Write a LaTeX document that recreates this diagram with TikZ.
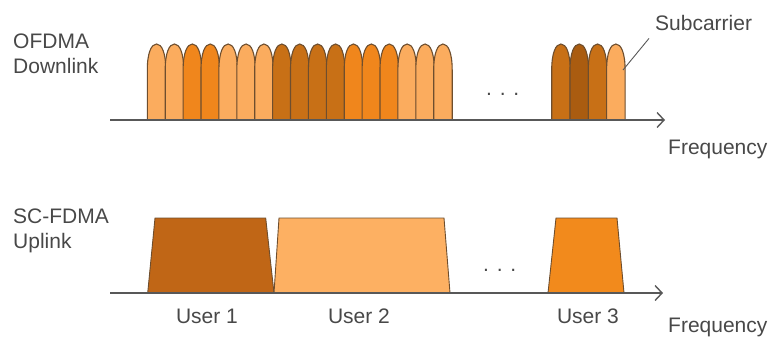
\documentclass[tikz,border=0pt]{standalone}
\usepackage{fontspec}
\setmainfont{Liberation Sans}
\usepackage{tikz}
\usetikzlibrary{arrows.meta}
\usetikzlibrary{positioning}
\definecolor{sclight}{RGB}{251,172,94}
\definecolor{scorange}{RGB}{240,134,28}
\definecolor{scdark}{RGB}{200,112,22}
\definecolor{scdeep}{RGB}{170,92,16}
\definecolor{userone}{RGB}{192,102,22}
\definecolor{usertwo}{RGB}{253,176,98}
\definecolor{userthree}{RGB}{242,138,28}
\definecolor{bumpline}{RGB}{110,78,46}
\definecolor{axisgrey}{RGB}{88,88,88}
\definecolor{txtgrey}{RGB}{72,72,72}

\begin{document}
\begin{tikzpicture}[x=1pt,y=-1pt,
    lbl/.style={font=\fontsize{21}{25}\selectfont, text=txtgrey, inner sep=0pt},
    axis/.style={draw=axisgrey, line width=1.4pt, -{Straight Barb[length=7pt,width=15pt]}},
    bump/.style={draw=bumpline, line width=1.1pt},
    band/.style={draw=bumpline, line width=0.9pt},
    leader/.style={draw=axisgrey, line width=0.9pt}]
      \useasboundingbox (0,0) rectangle (773,341);

      % downlink subcarriers
      \foreach \col [count=\i from 0] in {sclight,sclight,scorange,scorange,sclight,sclight,sclight,
          scdark,scdark,scdark,scdark,scorange,scorange,scorange,sclight,sclight,sclight}
        \draw[bump, fill=\col, shift={(147.3+17.9*\i,0)}] (0,120) -- (0,70)
          .. controls (0,53) and (4,44) .. (9.25,44) .. controls (14.5,44) and (18.5,53) .. (18.5,70)
          -- (18.5,120);
      \foreach \col [count=\i from 0] in {scdark,scdeep,scdark,sclight}
        \draw[bump, fill=\col, shift={(551.7+18.3*\i,0)}] (0,120) -- (0,70)
          .. controls (0,53) and (4,44) .. (9.25,44) .. controls (14.5,44) and (18.5,53) .. (18.5,70)
          -- (18.5,120);
      \coordinate (lastsc) at (623,70);

      % uplink users
      \draw[band, fill=userone] (147.7,293) -- (155,218) -- (265.7,218) -- (274,293);
      \draw[band, fill=usertwo] (274,293) -- (279,218) -- (444,218) -- (450,293);
      \draw[band, fill=userthree] (548,293) -- (556,218) -- (617,218) -- (624,293);

      % axes
      \coordinate (dlstart) at (110,120);
      \coordinate (dlend) at (665,120);
      \coordinate (ulstart) at (110,293);
      \coordinate (ulend) at (663,293);
      \draw[axis] (dlstart) -- (dlend);
      \draw[axis] (ulstart) -- (ulend);

      % labels
      \node[lbl, anchor=base west, align=left] (ofdma) at (13,73) {OFDMA\\Downlink};
      \node[lbl, anchor=base west, align=left] (scfdma) at (13,248) {SC-FDMA\\Uplink};
      \node[lbl, anchor=base west] (dlfreq) at (668,154) {Frequency};
      \node[lbl, anchor=base west] (ulfreq) at (668,332) {Frequency};
      \node[lbl, anchor=base west] (dldots) at (486,95) {. . .};
      \node[lbl, anchor=base west] (uldots) at (483,271) {. . .};
      \node[lbl, anchor=base] (userone) at (207,323) {User 1};
      \node[lbl, anchor=base] (usertwo) at (359,323) {User 2};
      \node[lbl, anchor=base] (userthree) at (588,323) {User 3};
      \node[lbl, anchor=base west] (sclbl) at (655,30) {Subcarrier};
      \draw[leader] ([xshift=-6pt,yshift=-8pt]sclbl.south west) -- (lastsc);
    \end{tikzpicture}
\end{document}
